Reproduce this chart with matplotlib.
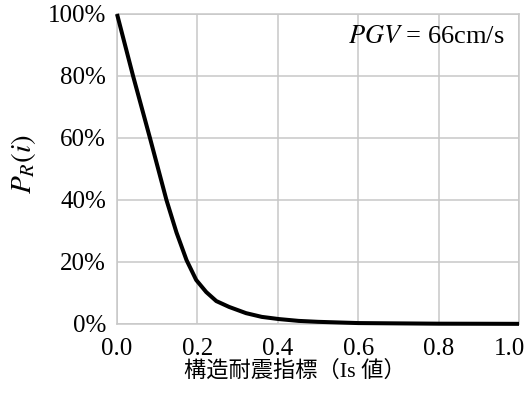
import matplotlib
matplotlib.use("Agg")
import matplotlib.pyplot as plt
from matplotlib.transforms import ScaledTranslation

plt.rcParams['mathtext.fontset'] = 'stix'

is_values = [0.0, 0.04, 0.082, 0.123, 0.148, 0.173, 0.197, 0.222, 0.247, 0.279,
             0.321, 0.360, 0.402, 0.452, 0.5, 0.6, 0.7, 0.8, 0.9, 1.0]
pr_values = [1.00, 0.80, 0.60, 0.40, 0.295, 0.206, 0.142, 0.103, 0.074, 0.055,
             0.035, 0.023, 0.016, 0.010, 0.007, 0.003, 0.002, 0.001, 0.0008, 0.0005]
x_ticks = [0.0, 0.2, 0.4, 0.6, 0.8, 1.0]
y_ticks = [0.0, 0.2, 0.4, 0.6, 0.8, 1.0]
x_tick_labels = ["0.0", "0.2", "0.4", "0.6", "0.8", "1.0"]
y_tick_labels = ["0%", "20%", "40%", "60%", "80%", "100%"]
annotation = r"$PGV$ = 66cm/s"
xlabel = "構造耐震指標（Is 値）"
ylabel = r"$P_R(i)$"

W, H = 528, 394
fig = plt.figure(figsize=(W / 100, H / 100), dpi=100)
ax = fig.add_axes([117 / W, 1 - 324 / H, (519 - 117) / W, (324 - 14) / H])

ax.plot(is_values, pr_values, color='black', lw=2.9, solid_capstyle='butt',
        solid_joinstyle='round', clip_on=False, zorder=3)

ax.set_xlim(0, 1.0)
ax.set_ylim(0, 1.0)
ax.set_xticks(x_ticks)
ax.set_yticks(y_ticks)
ax.set_xticklabels(x_tick_labels, family='Liberation Serif', fontsize=18)
ax.set_yticklabels(y_tick_labels, family='Liberation Serif', fontsize=18)
ax.tick_params(length=0)
ax.tick_params(axis='y', pad=8)
ax.tick_params(axis='x', pad=10)
ax.grid(True, color='#c8c8c8', lw=1.1)
ax.set_axisbelow(True)
for s in ax.spines.values():
    s.set_color('#c8c8c8')
    s.set_linewidth(1.1)

# keep last x tick label inside the figure, as in the reference
last = ax.get_xticklabels()[-1]
last.set_transform(last.get_transform() + ScaledTranslation(-10 / 100, 0, fig.dpi_scale_trans))

fig.text(505 / W, 1 - 37 / H, annotation, ha='right', va='center', fontsize=19,
         family='Liberation Serif')

fig.text(295 / W, 1 - 371 / H, xlabel, ha='center', va='center', fontsize=16,
         family=['Liberation Serif', 'Noto Sans CJK JP'])
fig.text(23 / W, 1 - 164 / H, ylabel, ha='center', va='center', fontsize=21,
         rotation=90)

fig.savefig("out.png", dpi=100)
